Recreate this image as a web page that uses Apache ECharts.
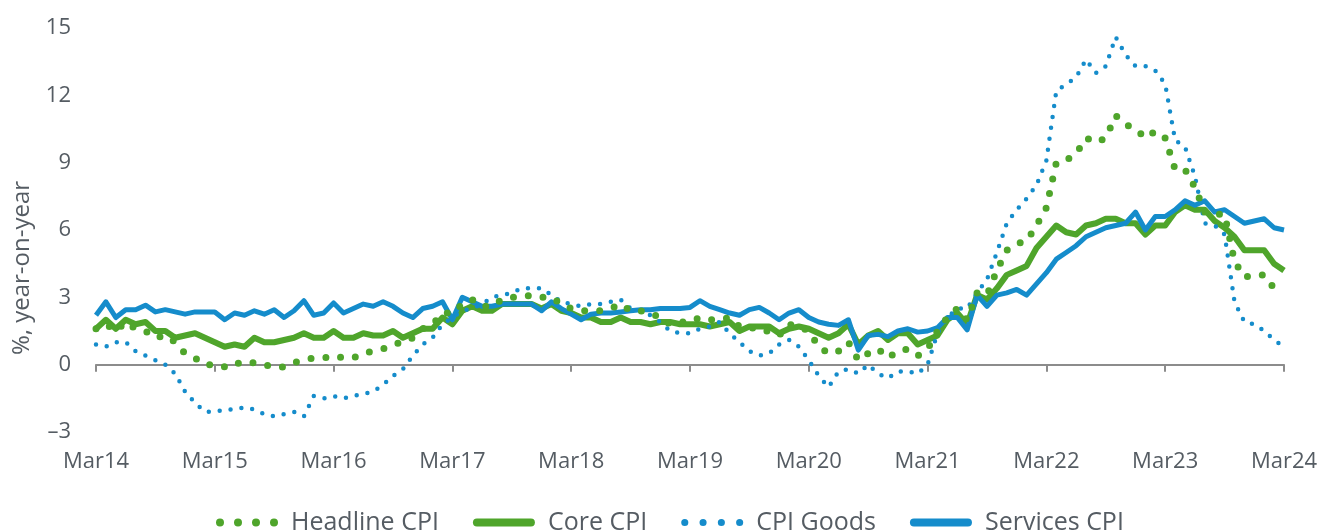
<!DOCTYPE html>
<html>
<head>
<meta charset="utf-8">
<script src="https://cdn.jsdelivr.net/npm/echarts@6/dist/echarts.min.js"></script>
<style>
  html, body { margin: 0; padding: 0; background: #fff; }
  #chart { width: 1335px; height: 530px; }
</style>
</head>
<body>
<div id="chart"></div>
<script>
// month names, axis runs Mar14 .. Mar24
const monthNames = ['Mar', 'Apr', 'May', 'Jun', 'Jul', 'Aug', 'Sep', 'Oct', 'Nov', 'Dec', 'Jan', 'Feb'];
const yearLabels = ['14', '15', '16', '17', '18', '19', '20', '21', '22', '23', '24'];
const yTicks = [-3, 0, 3, 6, 9, 12, 15];

// each row = Mar..Feb of one year, last value = Mar24
const headlineCPI = [
  1.6, 1.8, 1.5, 1.9, 1.6, 1.5, 1.2, 1.3, 1.0, 0.5, 0.3, 0.0,
  0.0, -0.1, 0.1, 0.0, 0.1, 0.0, -0.1, -0.1, 0.1, 0.2, 0.3, 0.3,
  0.4, 0.3, 0.3, 0.5, 0.6, 0.7, 0.9, 1.0, 1.2, 1.6, 1.8, 2.3,
  2.3, 2.7, 2.9, 2.6, 2.6, 2.9, 3.0, 3.0, 3.1, 3.0, 3.0, 2.7,
  2.5, 2.4, 2.4, 2.4, 2.5, 2.7, 2.4, 2.4, 2.3, 2.1, 1.8, 1.9,
  1.9, 2.1, 2.0, 2.0, 2.1, 1.7, 1.7, 1.5, 1.5, 1.3, 1.8, 1.7,
  1.5, 0.8, 0.5, 0.6, 1.0, 0.2, 0.5, 0.7, 0.3, 0.6, 0.7, 0.4,
  0.7, 1.5, 2.1, 2.5, 2.0, 3.2, 3.1, 4.2, 5.1, 5.4, 5.5, 6.2,
  7.0, 9.0, 9.1, 9.4, 10.1, 9.9, 10.1, 11.1, 10.7, 10.5, 10.1, 10.4,
  10.1, 8.7, 8.7, 7.9, 6.8, 6.7, 6.7, 4.6, 3.9, 4.0, 4.0, 3.4,
  3.2
];
const coreCPI = [
  1.6, 2.0, 1.6, 2.0, 1.8, 1.9, 1.5, 1.5, 1.2, 1.3, 1.4, 1.2,
  1.0, 0.8, 0.9, 0.8, 1.2, 1.0, 1.0, 1.1, 1.2, 1.4, 1.2, 1.2,
  1.5, 1.2, 1.2, 1.4, 1.3, 1.3, 1.5, 1.2, 1.4, 1.6, 1.6, 2.1,
  1.8, 2.4, 2.6, 2.4, 2.4, 2.7, 2.7, 2.7, 2.7, 2.5, 2.7, 2.4,
  2.3, 2.1, 2.1, 1.9, 1.9, 2.1, 1.9, 1.9, 1.8, 1.9, 1.9, 1.8,
  1.8, 1.8, 1.7, 1.8, 1.9, 1.5, 1.7, 1.7, 1.7, 1.4, 1.6, 1.7,
  1.6, 1.4, 1.2, 1.4, 1.8, 0.9, 1.3, 1.5, 1.1, 1.4, 1.4, 0.9,
  1.1, 1.3, 2.0, 2.3, 1.8, 3.1, 2.9, 3.4, 4.0, 4.2, 4.4, 5.2,
  5.7, 6.2, 5.9, 5.8, 6.2, 6.3, 6.5, 6.5, 6.3, 6.3, 5.8, 6.2,
  6.2, 6.8, 7.1, 6.9, 6.9, 6.4, 6.1, 5.7, 5.1, 5.1, 5.1, 4.5,
  4.2
];
const goodsCPI = [
  0.9, 0.8, 1.0, 1.0, 0.6, 0.4, 0.2, 0.0, -0.4, -1.2, -1.7, -2.1,
  -2.1, -2.0, -2.0, -1.9, -2.0, -2.2, -2.3, -2.2, -2.1, -2.3, -1.4, -1.5,
  -1.4, -1.5, -1.4, -1.3, -1.2, -0.9, -0.5, -0.2, 0.4, 0.9, 1.2, 1.8,
  2.1, 2.4, 2.5, 2.7, 3.0, 3.1, 3.2, 3.4, 3.4, 3.4, 3.1, 2.8,
  2.7, 2.6, 2.7, 2.7, 2.8, 2.9, 2.5, 2.4, 2.2, 1.9, 1.5, 1.4,
  1.4, 1.6, 1.7, 1.9, 1.4, 1.0, 0.6, 0.4, 0.5, 0.9, 1.1, 0.8,
  0.2, -0.5, -1.0, -0.3, -0.2, -0.4, 0.0, -0.4, -0.6, -0.3, -0.3, -0.4,
  0.0, 1.4, 2.1, 2.5, 2.5, 3.2, 3.8, 5.0, 6.3, 6.9, 7.4, 8.0,
  9.1, 12.2, 12.5, 12.8, 13.6, 13.0, 13.3, 14.6, 13.8, 13.3, 13.3, 13.1,
  12.5, 10.0, 9.7, 8.4, 6.3, 6.2, 5.8, 2.8, 1.9, 1.8, 1.5, 1.1,
  0.8
];
const servicesCPI = [
  2.2, 2.8, 2.1, 2.45, 2.45, 2.65, 2.35, 2.45, 2.35, 2.25, 2.35, 2.35,
  2.35, 2.0, 2.3, 2.2, 2.4, 2.25, 2.45, 2.1, 2.4, 2.85, 2.2, 2.3,
  2.75, 2.3, 2.5, 2.7, 2.6, 2.8, 2.6, 2.3, 2.1, 2.5, 2.6, 2.8,
  2.0, 3.0, 2.8, 2.6, 2.6, 2.7, 2.7, 2.7, 2.7, 2.4, 2.8, 2.5,
  2.25, 2.0, 2.25, 2.3, 2.3, 2.35, 2.4, 2.45, 2.45, 2.5, 2.5, 2.5,
  2.55, 2.85, 2.6, 2.45, 2.3, 2.2, 2.45, 2.55, 2.3, 2.0, 2.3, 2.45,
  2.1, 1.9, 1.8, 1.75, 2.0, 0.65, 1.3, 1.35, 1.25, 1.5, 1.6, 1.45,
  1.5, 1.65, 2.1, 2.1, 1.55, 3.1, 2.6, 3.1, 3.2, 3.35, 3.1, 3.6,
  4.1, 4.7, 5.0, 5.3, 5.7, 5.9, 6.1, 6.2, 6.3, 6.8, 6.0, 6.6,
  6.6, 6.9, 7.3, 7.1, 7.3, 6.8, 6.9, 6.6, 6.3, 6.4, 6.5, 6.1,
  6.0
];

const GREEN = '#4fa52b';
const BLUE = '#158ccb';
const TEXT = '#555c63';
const FONT = '"Open Sans", sans-serif';

// category labels like Mar14, Apr14 ...
const categories = [];
for (let i = 0; i < headlineCPI.length; i++) {
  const y = Math.floor((i + 2) / 12);
  categories.push(monthNames[i % 12] + yearLabels[y]);
}

// legend icons
const dotsBig = 'path://M0,4a4,4 0 1,0 8,0a4,4 0 1,0 -8,0 M18,4a4,4 0 1,0 8,0a4,4 0 1,0 -8,0 M36,4a4,4 0 1,0 8,0a4,4 0 1,0 -8,0 M54,4a4,4 0 1,0 8,0a4,4 0 1,0 -8,0';
const dotsSmall = 'path://M0,3.5a3.5,3.5 0 1,0 7,0a3.5,3.5 0 1,0 -7,0 M18,3.5a3.5,3.5 0 1,0 7,0a3.5,3.5 0 1,0 -7,0 M36,3.5a3.5,3.5 0 1,0 7,0a3.5,3.5 0 1,0 -7,0 M54,3.5a3.5,3.5 0 1,0 7,0a3.5,3.5 0 1,0 -7,0';
const bar = 'path://M4,0 H58 A4,4 0 0 1 58,8 H4 A4,4 0 0 1 4,0 Z';

const chart = echarts.init(document.getElementById('chart'));

chart.setOption({
  animation: false,
  backgroundColor: '#fff',
  textStyle: { fontFamily: FONT },
  grid: { left: 96, right: 51, top: 28, bottom: 98 },
  legend: {
    left: 211,
    top: 505,
    itemWidth: 62,
    itemHeight: 8,
    itemGap: 34,
    itemStyle: { borderWidth: 0 },
    textStyle: { color: TEXT, fontSize: 25, fontFamily: FONT, padding: [0, 0, 0, 8] },
    data: [
      { name: 'Headline CPI', icon: dotsBig, itemStyle: { color: GREEN } },
      { name: 'Core CPI', icon: bar, itemStyle: { color: GREEN } },
      { name: 'CPI Goods', icon: dotsSmall, itemStyle: { color: BLUE } },
      { name: 'Services CPI', icon: bar, itemStyle: { color: BLUE } }
    ]
  },
  xAxis: [
    {
      // line at zero with yearly ticks
      type: 'category',
      data: categories,
      boundaryGap: false,
      axisLine: { onZero: true, lineStyle: { color: '#8c8c8c', width: 2 } },
      axisTick: { show: true, interval: 11, length: 7, lineStyle: { color: '#8c8c8c', width: 2 } },
      axisLabel: { show: false },
      splitLine: { show: false }
    },
    {
      // labels along the bottom
      type: 'category',
      data: categories,
      boundaryGap: false,
      position: 'bottom',
      axisLine: { show: false, onZero: false },
      axisTick: { show: false },
      axisLabel: { interval: 11, color: TEXT, fontSize: 22, fontFamily: FONT, margin: 19 },
      splitLine: { show: false }
    }
  ],
  yAxis: {
    type: 'value',
    min: yTicks[0],
    max: yTicks[yTicks.length - 1],
    interval: 3,
    name: '%, year-on-year',
    nameLocation: 'middle',
    nameGap: 62,
    nameTextStyle: { color: TEXT, fontSize: 24, fontFamily: FONT, padding: [0, 76, 0, 0] },
    axisLine: { show: false },
    axisTick: { show: false },
    splitLine: { show: false },
    axisLabel: {
      color: TEXT,
      fontSize: 22,
      fontFamily: FONT,
      margin: 25,
      formatter: v => (v < 0 ? '\u2013' + Math.abs(v) : String(v))
    }
  },
  series: [
    {
      name: 'Core CPI',
      type: 'line',
      data: coreCPI,
      symbol: 'none',
      lineStyle: { color: GREEN, width: 6, join: 'round' },
      itemStyle: { color: GREEN },
      z: 2
    },
    {
      name: 'Services CPI',
      type: 'line',
      data: servicesCPI,
      symbol: 'none',
      lineStyle: { color: BLUE, width: 5, join: 'round' },
      itemStyle: { color: BLUE },
      z: 3
    },
    {
      name: 'CPI Goods',
      type: 'line',
      data: goodsCPI,
      symbol: 'none',
      lineStyle: { color: BLUE, width: 4.5, type: [0, 11], cap: 'round', join: 'round' },
      itemStyle: { color: BLUE },
      z: 4
    },
    {
      name: 'Headline CPI',
      type: 'line',
      data: headlineCPI,
      symbol: 'none',
      lineStyle: { color: GREEN, width: 7, type: [0, 15], cap: 'round', join: 'round' },
      itemStyle: { color: GREEN },
      z: 5
    }
  ]
});
</script>
</body>
</html>
